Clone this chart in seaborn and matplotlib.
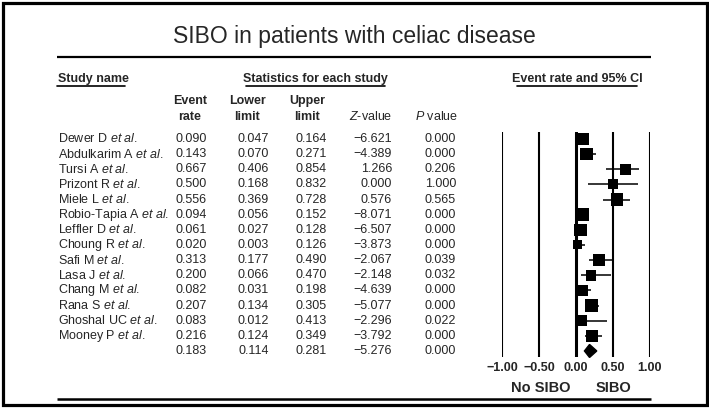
import matplotlib
matplotlib.use("Agg")
import matplotlib.pyplot as plt
import seaborn as sns
from matplotlib.patches import Rectangle

# ---------------------------------------------------------
# DATA
# ---------------------------------------------------------
studies = ["Dewer D", "Abdulkarim A", "Tursi A", "Prizont R", "Miele L",
           "Robio-Tapia A", "Leffler D", "Choung R", "Safi M", "Lasa J",
           "Chang M", "Rana S", "Ghoshal UC", "Mooney P"]
event_rate = [0.090, 0.143, 0.667, 0.500, 0.556, 0.094, 0.061, 0.020,
              0.313, 0.200, 0.082, 0.207, 0.083, 0.216]
lower_limit = [0.047, 0.070, 0.406, 0.168, 0.369, 0.056, 0.027, 0.003,
               0.177, 0.066, 0.031, 0.134, 0.012, 0.124]
upper_limit = [0.164, 0.271, 0.854, 0.832, 0.728, 0.152, 0.128, 0.126,
               0.490, 0.470, 0.198, 0.305, 0.413, 0.349]
z_value = [-6.621, -4.389, 1.266, 0.000, 0.576, -8.071, -6.507, -3.873,
           -2.067, -2.148, -4.639, -5.077, -2.296, -3.792]
p_value = [0.000, 0.000, 0.206, 1.000, 0.565, 0.000, 0.000, 0.000,
           0.039, 0.032, 0.000, 0.000, 0.022, 0.000]
# relative study weight (square size)
rel_weight = [12, 12.5, 11.5, 10, 12.5, 12.5, 12.5, 9, 12.5, 10.5,
              11.5, 13.5, 10.5, 12.5]

# pooled estimate
pooled = {"rate": 0.183, "lower": 0.114, "upper": 0.281, "z": -5.276, "p": 0.000}

x_ticks = [-1.0, -0.5, 0.0, 0.5, 1.0]


def fmt(v, nd=3):
    return f"{v:.{nd}f}".replace("-", "\u2212")


def main():
    sns.set_style("white")
    plt.rcParams["font.family"] = ["Liberation Sans", "DejaVu Sans"]
    plt.rcParams["mathtext.fontset"] = "custom"
    plt.rcParams["mathtext.rm"] = "Liberation Sans"
    plt.rcParams["mathtext.it"] = "Liberation Sans:italic"
    plt.rcParams["mathtext.bf"] = "Liberation Sans:bold"

    W, H = 709, 408
    fig = plt.figure(figsize=(W / 100, H / 100), dpi=100)
    fig.patch.set_facecolor("white")

    # full-figure axes in pixel units for the table part
    ax = fig.add_axes([0, 0, 1, 1])
    ax.set_xlim(0, W)
    ax.set_ylim(H, 0)
    ax.axis("off")

    ax.add_patch(Rectangle((2.5, 2.5), W - 5, H - 6, fill=False,
                           edgecolor="black", lw=2.3, clip_on=False))

    ax.text(354, 37, "SIBO in patients with celiac disease", fontsize=16.5,
            ha="center", va="center")
    ax.plot([57, 651], [57, 57], color="black", lw=1.6, solid_capstyle="butt")
    ax.plot([57, 651], [399, 399], color="black", lw=1.8, solid_capstyle="butt")

    # group headers
    hdr = dict(fontsize=9, fontweight="bold", va="center")
    ax.text(58, 79, "Study name", ha="left", **hdr)
    ax.plot([57, 125], [86, 86], color="black", lw=1.2)
    ax.text(315, 79, "Statistics for each study", ha="center", **hdr)
    ax.plot([246, 385], [86, 86], color="black", lw=1.2)
    ax.text(577, 79, "Event rate and 95% CI", ha="center", **hdr)
    ax.plot([517, 637], [86, 86], color="black", lw=1.2)

    # column headers
    ax.text(190, 101, "Event", ha="center", **hdr)
    ax.text(190, 117, "rate", ha="center", **hdr)
    ax.text(247, 101, "Lower", ha="center", **hdr)
    ax.text(247, 117, "limit", ha="center", **hdr)
    ax.text(307, 101, "Upper", ha="center", **hdr)
    ax.text(307, 117, "limit", ha="center", **hdr)
    ax.text(371, 117, r"$\mathit{Z}$-value", ha="center", va="center", fontsize=9)
    ax.text(437, 117, r"$\mathit{P}$ value", ha="center", va="center", fontsize=9)

    # table rows
    row0, step = 139, 15.14
    cols = [(207, event_rate), (269, lower_limit), (327, upper_limit),
            (392, z_value), (456, p_value)]
    for i, name in enumerate(studies):
        y = row0 + step * i
        ax.text(58, y, name + r" $\mathit{et\ al.}$", ha="left", va="center",
                fontsize=9)
        for xr, vals in cols:
            ax.text(xr, y, fmt(vals[i]), ha="right", va="center", fontsize=9)
    y = row0 + step * len(studies)
    for xr, key in zip([207, 269, 327, 392, 456],
                       ["rate", "lower", "upper", "z", "p"]):
        ax.text(xr, y, fmt(pooled[key]), ha="right", va="center", fontsize=9)

    ax.text(541, 388, "No SIBO", ha="center", va="center", fontsize=10.5,
            fontweight="bold")
    ax.text(613, 388, "SIBO", ha="center", va="center", fontsize=10.5,
            fontweight="bold")

    # forest plot axes: -1 at px 502, 1 at px 650, rows mapped to the table rows
    top_px, bot_px = 132, 357
    fax = fig.add_axes([502 / W, (H - bot_px) / H, 148 / W, (bot_px - top_px) / H])
    fax.set_facecolor("none")
    fax.set_xlim(-1, 1)
    fax.set_ylim((bot_px - row0) / step, (top_px - row0) / step)
    for s in fax.spines.values():
        s.set_visible(False)
    for t in x_ticks:
        fax.axvline(t, color="black", lw=2.2 if t == 0 else 1.5, zorder=1)

    rows = list(range(len(studies)))
    fax.hlines(rows, lower_limit, upper_limit, color="black", lw=1.1, zorder=2)
    sizes = [(w * 0.72) ** 2 for w in rel_weight]
    sns.scatterplot(x=event_rate, y=rows, marker="s", s=sizes, color="black",
                    edgecolor="none", linewidth=0, legend=False, ax=fax,
                    zorder=3, clip_on=False)

    yp = len(studies)
    h = 0.43
    fax.fill([pooled["lower"], pooled["rate"], pooled["upper"], pooled["rate"]],
             [yp, yp - h, yp, yp + h], color="black", zorder=3, clip_on=False)

    fax.set_xticks(x_ticks)
    fax.set_xticklabels([fmt(t, 2) for t in x_ticks], fontsize=9,
                        fontweight="bold")
    fax.set_yticks([])
    fax.tick_params(axis="x", length=0, pad=3.5)
    fax.set_xlabel("")
    fax.set_ylabel("")

    fig.savefig("out.png", dpi=100, facecolor="white")
    plt.close(fig)


if __name__ == "__main__":
    main()
